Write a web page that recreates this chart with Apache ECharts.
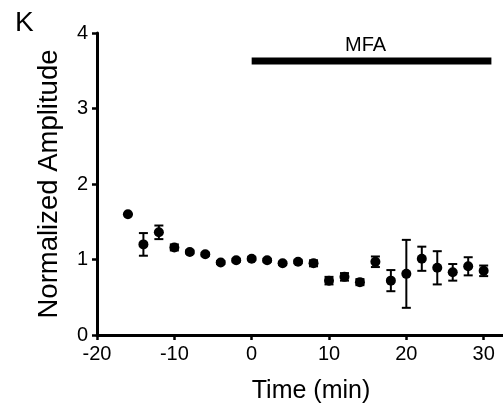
<!DOCTYPE html>
<html><head><meta charset="utf-8">
<script src="https://cdn.jsdelivr.net/npm/echarts@6/dist/echarts.min.js"></script>
<style>html,body{margin:0;padding:0;background:#fff}#c{width:503px;height:409px}</style>
</head><body><div id="c"></div>
<script>
var times = [-16,-14,-12,-10,-8,-6,-4,-2,0,2,4,6,8,10,12,14,16,18,20,22,24,26,28,30];
var means = [1.60,1.20,1.36,1.16,1.10,1.07,0.96,0.99,1.01,0.99,0.95,0.97,0.95,0.72,0.77,0.70,0.97,0.72,0.81,1.01,0.89,0.83,0.91,0.85];
var sems  = [0,0.15,0.09,0.04,0.02,0.02,0.02,0.02,0.02,0.02,0.02,0.02,0.04,0.05,0.05,0.04,0.07,0.14,0.45,0.16,0.22,0.11,0.12,0.07];
var xTicks = [-20,-10,0,10,20,30];
var yTicks = [0,1,2,3,4];
var mfaStart = 0, mfaEnd = 31, mfaLevel = 3.63;
var panelLabel = 'K', mfaLabel = 'MFA';

var FONT = 'Arial, "Liberation Sans", sans-serif';
var pts = times.map(function(t,i){return [t, means[i]];});
var errs = times.map(function(t,i){return [t, means[i]-sems[i], means[i]+sems[i]];});

var chart = echarts.init(document.getElementById('c'));
chart.setOption({
  animation:false,
  grid:{left:97, right:0, top:33, bottom:67},
  xAxis:{type:'value', min:-20, max:32.5, interval:10,
    axisLine:{onZero:false, lineStyle:{color:'#000', width:3}},
    axisTick:{show:true, length:5, lineStyle:{color:'#000', width:2.5}, customValues:xTicks},
    axisLabel:{color:'#000', fontSize:20, fontFamily:FONT, margin:9, customValues:xTicks},
    splitLine:{show:false},
    name:'Time (min)', nameLocation:'middle', nameGap:44,
    nameTextStyle:{color:'#000', fontSize:25, fontFamily:FONT, padding:[0,0,0,22]}},
  yAxis:{type:'value', min:0, max:4, interval:1,
    axisLine:{show:true, onZero:false, lineStyle:{color:'#000', width:3}},
    axisTick:{show:true, inside:false, length:5, lineStyle:{color:'#000', width:2.5}, customValues:yTicks},
    axisLabel:{color:'#000', fontSize:20, fontFamily:FONT, margin:9, customValues:yTicks},
    splitLine:{show:false},
    name:'Normalized Amplitude', nameLocation:'middle', nameGap:34,
    nameTextStyle:{color:'#000', fontSize:27.5, fontFamily:FONT}},
  graphic:[{type:'text', left:15, top:9, style:{text:panelLabel, fontSize:28, fontFamily:FONT, fill:'#000'}}],
  series:[
    {type:'custom', renderItem:function(params, api){
        var x = api.value(0);
        var lo = api.coord([x, api.value(1)]);
        var hi = api.coord([x, api.value(2)]);
        var w = 4.5;
        var st = {stroke:'#000', lineWidth:2};
        return {type:'group', children:[
          {type:'line', shape:{x1:lo[0], y1:lo[1], x2:hi[0], y2:hi[1]}, style:st},
          {type:'line', shape:{x1:lo[0]-w, y1:lo[1], x2:lo[0]+w, y2:lo[1]}, style:st},
          {type:'line', shape:{x1:hi[0]-w, y1:hi[1], x2:hi[0]+w, y2:hi[1]}, style:st}
        ]};
      }, data:errs, encode:{x:0, y:[1,2]}, z:2},
    {type:'scatter', data:pts, symbol:'circle', symbolSize:10, itemStyle:{color:'#000', opacity:1}, z:3},
    {type:'line', data:[[mfaStart, mfaLevel],[mfaEnd, mfaLevel]], symbol:'none',
      lineStyle:{color:'#000', width:7}, z:3,
      markPoint:{symbol:'rect', symbolSize:1, itemStyle:{color:'rgba(0,0,0,0)'},
        data:[{coord:[(mfaStart+mfaEnd)/2, mfaLevel], value:mfaLabel}],
        label:{show:true, position:'top', distance:5, offset:[-6,0], formatter:mfaLabel, color:'#000', fontSize:20, fontFamily:FONT}}}
  ]
});
</script></body></html>
